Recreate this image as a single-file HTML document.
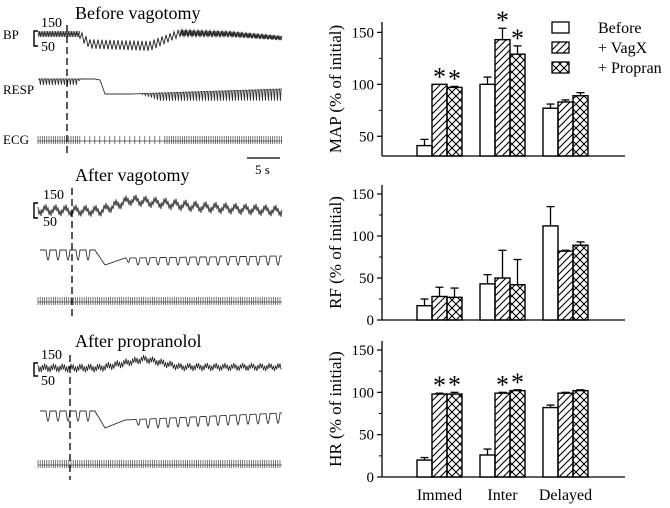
<!DOCTYPE html>
<html><head><meta charset="utf-8"><style>
html,body{margin:0;padding:0;background:#fff}
svg{display:block;font-family:"Liberation Serif",serif}
</style></head><body>
<svg id="fig" width="670" height="508" viewBox="0 0 670 508">
<defs>
<pattern id="diag" patternUnits="userSpaceOnUse" width="7" height="7"><path d="M-1,8 L8,-1 M-1,1 L1,-1 M6,8 L8,6" stroke="#000" stroke-width="1.1"/></pattern>
<pattern id="cross" patternUnits="userSpaceOnUse" width="8" height="8"><path d="M0,0 L8,8 M8,0 L0,8" stroke="#000" stroke-width="1.1"/></pattern>
</defs>
<g id="traces"></g>
<g id="charts"></g>
</svg>
<script>
const NS="http://www.w3.org/2000/svg";
const categories=["Immed","Inter","Delayed"];
const seriesNames=["Before","+ VagX","+ Propran"];
const mapBefore=[41,100,77], mapBeforeErr=[6,7,4];
const mapVagX=[100,143,83], mapVagXErr=[0,11,2];
const mapPropran=[97,129,89], mapPropranErr=[1,8,3];
const rfBefore=[17,43,112], rfBeforeErr=[8,11,23];
const rfVagX=[28,50,82], rfVagXErr=[11,33,1];
const rfPropran=[27,42,89], rfPropranErr=[11,30,4];
const hrBefore=[20,26,82], hrBeforeErr=[3,7,3];
const hrVagX=[98,99,99], hrVagXErr=[1,1,1];
const hrPropran=[98,102,102], hrPropranErr=[2,1,1];
const mapStars=[[false,true,true],[false,true,true],[false,false,false]];
const rfStars=[[false,false,false],[false,false,false],[false,false,false]];
const hrStars=[[false,true,true],[false,true,true],[false,false,false]];

function el(tag,attrs,parent,text){const e=document.createElementNS(NS,tag);for(const k in attrs)e.setAttribute(k,attrs[k]);if(text!==undefined)e.textContent=text;parent.appendChild(e);return e;}
const C=document.getElementById('charts');

function chart(name,label,yMin,yMax,yTop,yBot,ticks,minor,vals,errs,stars,axisTop){
  const g=el('g',{},C);
  
  
  const y=v=>yBot-(v-yMin)/(yMax-yMin)*(yBot-yTop);
  const ax=382, axEnd=625;
  const yl=el('line',{x1:ax,y1:axisTop,x2:ax,y2:y(yMin),stroke:'#000','stroke-width':1.3},g);
  
  
  const xl=el('line',{x1:ax,y1:y(yMin),x2:axEnd,y2:y(yMin),stroke:'#000','stroke-width':1.3},g);
  
  
  ticks.forEach(t=>{
    el('line',{x1:ax-5,y1:y(t),x2:ax,y2:y(t),stroke:'#000','stroke-width':1.2},g);
    const tl=el('text',{x:ax-8,y:y(t)+5,'text-anchor':'end','font-size':15},g,String(t));
    
    
  });
  minor.forEach(t=>{el('line',{x1:ax-3,y1:y(t),x2:ax,y2:y(t),stroke:'#000','stroke-width':1},g);});
  const midY=(axisTop+y(yMin))/2;
  const tt=el('text',{x:0,y:0,'text-anchor':'middle','font-size':17,transform:`translate(341,${midY}) rotate(-90)`},g,label);
  
  
  const fills=['#fff','url(#diag)','url(#cross)'];
  const gx=[417,480,543], bw=15;
  for(let c=0;c<3;c++){
    for(let s=0;s<3;s++){
      const v=vals[s][c], e=errs[s][c];
      const x=gx[c]+s*bw;
      const r=el('rect',{x:x,y:y(v),width:bw,height:y(yMin)-y(v),fill:fills[s],stroke:'#000','stroke-width':1.4},g);
      
      
      if(e>0){
        el('line',{x1:x+bw/2,y1:y(v),x2:x+bw/2,y2:y(v+e),stroke:'#000','stroke-width':1.3},g);
        el('line',{x1:x+bw/2-4,y1:y(v+e),x2:x+bw/2+4,y2:y(v+e),stroke:'#000','stroke-width':1.3},g);
      }
      if(stars[c][s]){
        const st=el('text',{x:x+bw/2,y:y(v+e)+1,'text-anchor':'middle','font-size':26},g,'*');
        
        
      }
    }
  }
  return {y,gx,bw};
}
chart('map','MAP (% of initial)',31,160,22,156,[50,100,150],[75,125],[mapBefore,mapVagX,mapPropran],[mapBeforeErr,mapVagXErr,mapPropranErr],mapStars,22);
chart('rf','RF (% of initial)',0,150,194,320,[0,50,100,150],[25,75,125],[rfBefore,rfVagX,rfPropran],[rfBeforeErr,rfVagXErr,rfPropranErr],rfStars,185);
const hr=chart('hr','HR (% of initial)',0,150,350,477,[0,50,100,150],[25,75,125],[hrBefore,hrVagX,hrPropran],[hrBeforeErr,hrVagXErr,hrPropranErr],hrStars,341);
categories.forEach((c,i)=>{
  const t=el('text',{x:hr.gx[i]+22.5,y:500,'text-anchor':'middle','font-size':16},C,c);
  
  
});
const legFill=['#fff','url(#diag)','url(#cross)'];
seriesNames.forEach((n,i)=>{
  const r=el('rect',{x:552,y:22+i*20,width:17,height:11,fill:legFill[i],stroke:'#000','stroke-width':1.3},C);
  
  
  const t=el('text',{x:598,y:33+i*20,'font-size':16},C,n);
  
  
});

// ----- traces -----
const T=document.getElementById('traces');
function lin(pts,x){for(let i=0;i<pts.length-1;i++){if(x>=pts[i][0]&&x<=pts[i+1][0]){const f=(x-pts[i][0])/(pts[i+1][0]-pts[i][0]);return pts[i][1]+f*(pts[i+1][1]-pts[i][1]);}}return pts[pts.length-1][1];}
function zig(name,base,amp,period,x0,x1,w,slowAmp,slowPer){
  let d='';let k=0;
  for(let x=x0;x<=x1;x+=period/2){const b=lin(base,x)+(slowAmp||0)*Math.sin(2*Math.PI*(x-x0)/(slowPer||10));const a=lin(amp,x);const yy=b+(k%2?a:-a)/2;d+=(k?'L':'M')+x.toFixed(1)+','+yy.toFixed(1);k++;}
  const p=el('path',{d:d,fill:'none',stroke:'#222','stroke-width':w},T);
  
  
}
function resp(name,base,amp,period,x0,x1){
  let d='';
  for(let x=x0;x<=x1;x+=0.5){
    const b=lin(base,x),a=lin(amp,x);
    const ph=((x-x0)%period)/period;
    const w=ph<0.6?0:-Math.sin((ph-0.6)/0.4*Math.PI);
    const yy=b+a*w;
    d+=(x===x0?'M':'L')+x.toFixed(1)+','+yy.toFixed(1);
  }
  const p=el('path',{d:d,fill:'none',stroke:'#333','stroke-width':0.9},T);
  
  
}
function ecg(name,yb,x0,x1,gapStart,gapEnd){
  let d=`M${x0},${yb}L${x1},${yb}`;
  for(let x=x0;x<=x1;x+=(x>gapStart&&x<gapEnd)?5:2.2){d+=`M${x.toFixed(1)},${yb-5}L${x.toFixed(1)},${yb+3}`;}
  const p=el('path',{d:d,fill:'none',stroke:'#444','stroke-width':0.7},T);
  
  
}
function txt(name,x,y,s,size,anchor){const t=el('text',{x:x,y:y,'font-size':size,'text-anchor':anchor||'start'},T,s);}
function dash(name,x,y0,y1){const l=el('line',{x1:x,y1:y0,x2:x,y2:y1,stroke:'#000','stroke-width':1.3,'stroke-dasharray':'7,4'},T);}
function bracket(name,x,y0,y1){const p=el('path',{d:`M${x+4},${y0}L${x},${y0}L${x},${y1}L${x+4},${y1}`,fill:'none',stroke:'#000','stroke-width':1.4},T);}

// panel 1
txt('panel-title-before',75,19,'Before vagotomy',18);
txt('bp-label',3,39,'BP',13);
txt('resp-label',3,94,'RESP',13);
txt('ecg-label',3,144,'ECG',13);
bracket('bp-scale-bracket',34,31,46);
txt('scale-150',41,27,'150',14);txt('scale-50',41,51,'50',14);
zig('bp-trace-before-fast-a',[[38,34],[80,34]],[[38,6],[80,6]],1.6,38,80,0.7);
zig('bp-trace-before-fast-b',[[180,33],[230,34],[282,38]],[[180,6],[282,4]],1.6,180,282,0.7);
zig('bp-trace-before',[[38,34],[78,34],[90,44],[150,46],[180,33],[230,34],[282,38]],[[38,2],[78,2],[82,9],[150,10],[180,7],[282,4]],4,78,282,0.9);
resp('resp-trace-before',[[38,79],[95,79],[100,80],[105,94],[130,94],[282,89]],[[38,-6],[78,-6],[80,0],[140,0],[160,-8],[282,-12]],3,38,282);
ecg('ecg-trace-before',141,38,282,78,160);
dash('injection-marker-1',67,25,155);
const sb=el('line',{x1:247,y1:158,x2:280,y2:158,stroke:'#000','stroke-width':1.3},T);
txt('time-scale-label',255,174,'5 s',13);
// panel 2
txt('panel-title-after-vagotomy',75,181,'After vagotomy',18);
bracket('bp-scale-bracket-2',34,203,218);
txt('scale-150-2',43,199,'150',14);txt('scale-50-2',43,226,'50',14);
zig('bp-trace-vagotomy',[[38,210],[100,211],[130,200],[200,207],[282,211]],[[38,6],[282,6]],2,38,282,0.8,3,10);
resp('resp-trace-vagotomy',[[38,250],[95,250],[105,265],[125,258],[282,256]],[[38,-10],[95,-10],[97,0],[125,0],[130,-7],[282,-9]],10,40,282);
ecg('ecg-trace-vagotomy',302,38,282,999,999);
dash('injection-marker-2',72,188,318);
// panel 3
txt('panel-title-after-propranolol',75,347,'After propranolol',18);
bracket('bp-scale-bracket-3',34,363,376);
txt('scale-150-3',41,359,'150',14);txt('scale-50-3',41,385,'50',14);
zig('bp-trace-propranolol',[[38,368],[100,368],[145,359],[180,367],[282,367]],[[38,6],[282,5]],2.2,38,282,0.8,1.5,9);
resp('resp-trace-propranolol',[[38,411],[95,411],[105,428],[125,420],[282,413]],[[38,-10],[95,-10],[97,0],[135,0],[140,-9],[282,-10]],10,40,282);
ecg('ecg-trace-propranolol',465,38,282,999,999);
dash('injection-marker-3',70,355,480);
</script>
</body></html>
